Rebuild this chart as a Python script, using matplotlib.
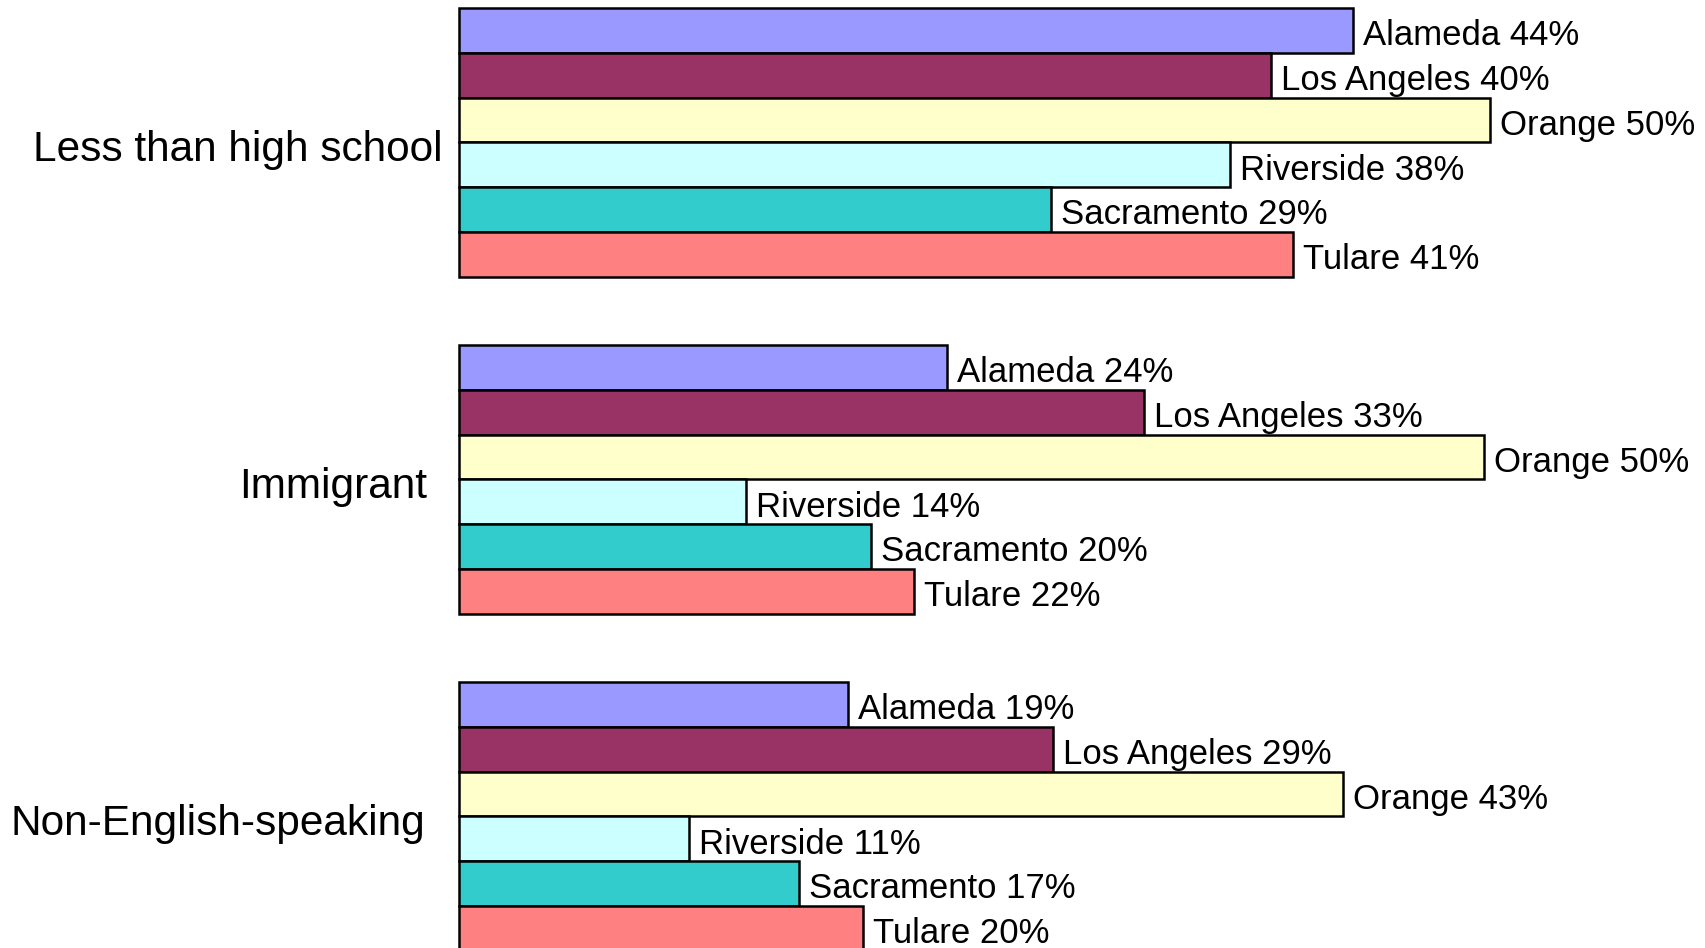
import matplotlib
matplotlib.use("Agg")
import matplotlib.pyplot as plt

# groups and counties
groups = ["Less than high school", "Immigrant", "Non-English-speaking"]
counties = ["Alameda", "Los Angeles", "Orange", "Riverside", "Sacramento", "Tulare"]
colors = ["#9999FF", "#993366", "#FFFFCC", "#CCFFFF", "#33CCCC", "#FF8080"]

# percent values, one list per group
less_than_hs = [43.6, 39.6, 50.3, 37.6, 28.9, 40.7]
immigrant = [23.8, 33.4, 50.0, 14.0, 20.1, 22.2]
non_english = [19.0, 29.0, 43.1, 11.2, 16.6, 19.7]
values = [less_than_hs, immigrant, non_english]

plt.rcParams['font.family'] = ['Liberation Sans', 'DejaVu Sans']

W, H, DPI = 1706, 948, 100
fig = plt.figure(figsize=(W / DPI, H / DPI), dpi=DPI)
ax = fig.add_axes([0, 0, 1, 1])

# layout: pixels per percent, bar height in px, group step
px_per_pct = 20.5
x0_px = 459
bar_px = 44.75
top_px = 8
step = 337 / bar_px
top0 = top_px / bar_px

ax.set_xlim(-x0_px / px_per_pct, (W - x0_px) / px_per_pct)
ax.set_ylim(H / bar_px, 0)
ax.axis('off')

label_gap = 10 / px_per_pct
cat_gap_px = [16, 32, 34]

for g, (grp, vals) in enumerate(zip(groups, values)):
    ys = [top0 + g * step + j + 0.5 for j in range(len(counties))]
    ax.barh(ys, vals, height=1.0, color=colors, edgecolor='black', linewidth=1.8)
    for y, v, name in zip(ys, vals, counties):
        ax.text(v + label_gap, y + 15 / bar_px, f"{name} {v:.0f}%",
                fontsize=25, va='baseline', ha='left')
    center = top0 + g * step + len(counties) / 2
    ax.text(-cat_gap_px[g] / px_per_pct, center + 19 / bar_px, grp,
            fontsize=30.5, va='baseline', ha='right')

fig.savefig("out.png", dpi=DPI)
